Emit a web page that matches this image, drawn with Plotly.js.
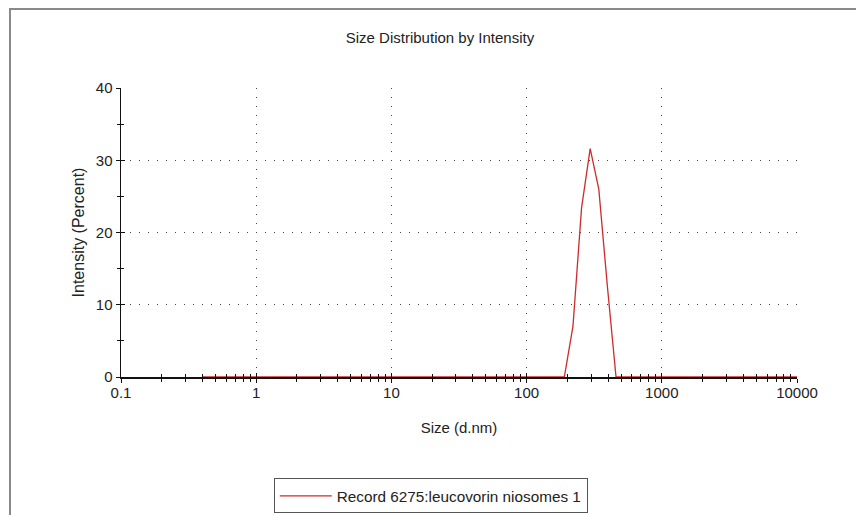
<!DOCTYPE html>
<html>
<head>
<meta charset="utf-8">
<script src="https://cdn.plot.ly/plotly-3.0.1.min.js"></script>
<style>
  html, body { margin: 0; padding: 0; background: #fff; }
  #wrap { position: relative; width: 856px; height: 515px; overflow: hidden; }
  #chart { position: absolute; left: 0; top: 0; width: 856px; height: 515px; }
  #frame { position: absolute; left: 9px; top: 8px; right: -5px; bottom: -5px;
           border-top: 2px solid #8a8a8a; border-left: 2px solid #8a8a8a; pointer-events: none; }
</style>
</head>
<body>
<div id="wrap">
  <div id="chart"></div>
  <div id="frame"></div>
</div>
<script>
// Size bins (d.nm)
const sizes = [0.4, 0.4632, 0.5365, 0.6213, 0.7195, 0.8332, 0.965, 1.117, 1.294, 1.499,
  1.736, 2.01, 2.328, 2.696, 3.122, 3.615, 4.187, 4.849, 5.615, 6.503,
  7.531, 8.721, 10.1, 11.7, 13.54, 15.69, 18.17, 21.04, 24.36, 28.21,
  32.67, 37.84, 43.82, 50.75, 58.77, 68.06, 78.82, 91.28, 105.7, 122.4,
  141.8, 164.2, 190.1, 220.2, 255.0, 295.3, 342.0, 396.1, 458.7, 531.2,
  615.1, 712.4, 825.0, 955.4, 1106, 1281, 1484, 1718, 1990, 2305,
  2669, 3091, 3580, 4145, 4801, 5560, 6439, 7456, 8635, 10000];
// Intensity (Percent)
const intensity = [0, 0, 0, 0, 0, 0, 0, 0, 0, 0,
  0, 0, 0, 0, 0, 0, 0, 0, 0, 0,
  0, 0, 0, 0, 0, 0, 0, 0, 0, 0,
  0, 0, 0, 0, 0, 0, 0, 0, 0, 0,
  0, 0, 0, 7.0, 23.4, 31.6, 26.0, 12.5, 0, 0,
  0, 0, 0, 0, 0, 0, 0, 0, 0, 0,
  0, 0, 0, 0, 0, 0, 0, 0, 0, 0];
const seriesName = 'Record 6275:leucovorin niosomes 1';
const xTickVals = [0.1, 1, 10, 100, 1000, 10000];
const xTickText = ['0.1', '1', '10', '100', '1000', '10000'];
const yTickVals = [0, 10, 20, 30, 40];
const titleText = 'Size Distribution by Intensity';
const xTitle = 'Size (d.nm)';
const yTitle = 'Intensity (Percent)';

const font = { family: 'Liberation Sans, Arial, sans-serif', size: 15, color: '#222' };

const traces = [
  {
    x: sizes, y: intensity, type: 'scatter', mode: 'lines', name: seriesName,
    line: { color: '#cc2b2b', width: 1.3 }, xaxis: 'x', yaxis: 'y'
  },
  // invisible helper trace for inner-tick axes
  { x: [0.1, 10000], y: [0, 40], type: 'scatter', mode: 'none', showlegend: false,
    hoverinfo: 'skip', xaxis: 'x2', yaxis: 'y2' }
];

const layout = {
  width: 856, height: 515,
  margin: { l: 121, r: 59, t: 88, b: 138, autoexpand: false },
  paper_bgcolor: '#fff', plot_bgcolor: '#fff',
  font: font,
  title: { text: titleText, x: 0.514, xanchor: 'center', y: 0.926, yanchor: 'middle',
           font: font },
  showlegend: true,
  legend: {
    x: 0.226, xanchor: 'left', yref: 'container', y: 0.071, yanchor: 'top',
    bordercolor: '#555', borderwidth: 1, bgcolor: '#fff',
    font: { family: font.family, size: 15.3, color: '#222' },
    itemwidth: 52
  },
  xaxis: {
    type: 'log', range: [-1, 4], automargin: false,
    tickvals: xTickVals, ticktext: xTickText,
    ticks: 'outside', ticklen: 4, tickcolor: '#111', tickwidth: 1,
    ticklabelstandoff: -3,
    minor: { ticks: 'outside', ticklen: 3, tickcolor: '#111', dtick: 'D1', showgrid: false },
    showline: true, linecolor: '#111', linewidth: 1.5,
    showgrid: true, gridcolor: '#444', gridwidth: 1, griddash: '1px,8px',
    zeroline: false,
    tickfont: font,
    title: { text: xTitle, font: font, standoff: 23 }
  },
  yaxis: {
    range: [0, 40], automargin: false, tickvals: yTickVals,
    ticks: 'outside', ticklen: 4, tickcolor: '#111', tickwidth: 1,
    minor: { ticks: 'outside', ticklen: 3, tickcolor: '#111', dtick: 5, showgrid: false },
    showline: true, linecolor: '#111', linewidth: 1.5,
    showgrid: true, gridcolor: '#444', gridwidth: 1, griddash: '1px,8px',
    zeroline: false,
    tickfont: font,
    title: { text: yTitle, font: { family: font.family, size: 16, color: '#222' }, standoff: 7 }
  },
  xaxis2: {
    type: 'log', range: [-1, 4], overlaying: 'x', anchor: 'y2', automargin: false,
    tickvals: xTickVals, showticklabels: false,
    ticks: 'inside', ticklen: 4, tickcolor: '#111',
    minor: { ticks: 'inside', ticklen: 3, tickcolor: '#111', dtick: 'D1', showgrid: false },
    showgrid: false, zeroline: false, showline: false
  },
  yaxis2: {
    range: [0, 40], overlaying: 'y', anchor: 'x2', automargin: false,
    tickvals: yTickVals, showticklabels: false,
    ticks: 'inside', ticklen: 4, tickcolor: '#111',
    minor: { ticks: 'inside', ticklen: 3, tickcolor: '#111', dtick: 5, showgrid: false },
    showgrid: false, zeroline: false, showline: false
  }
};

Plotly.newPlot('chart', traces, layout, { staticPlot: true, displayModeBar: false });
</script>
</body>
</html>
